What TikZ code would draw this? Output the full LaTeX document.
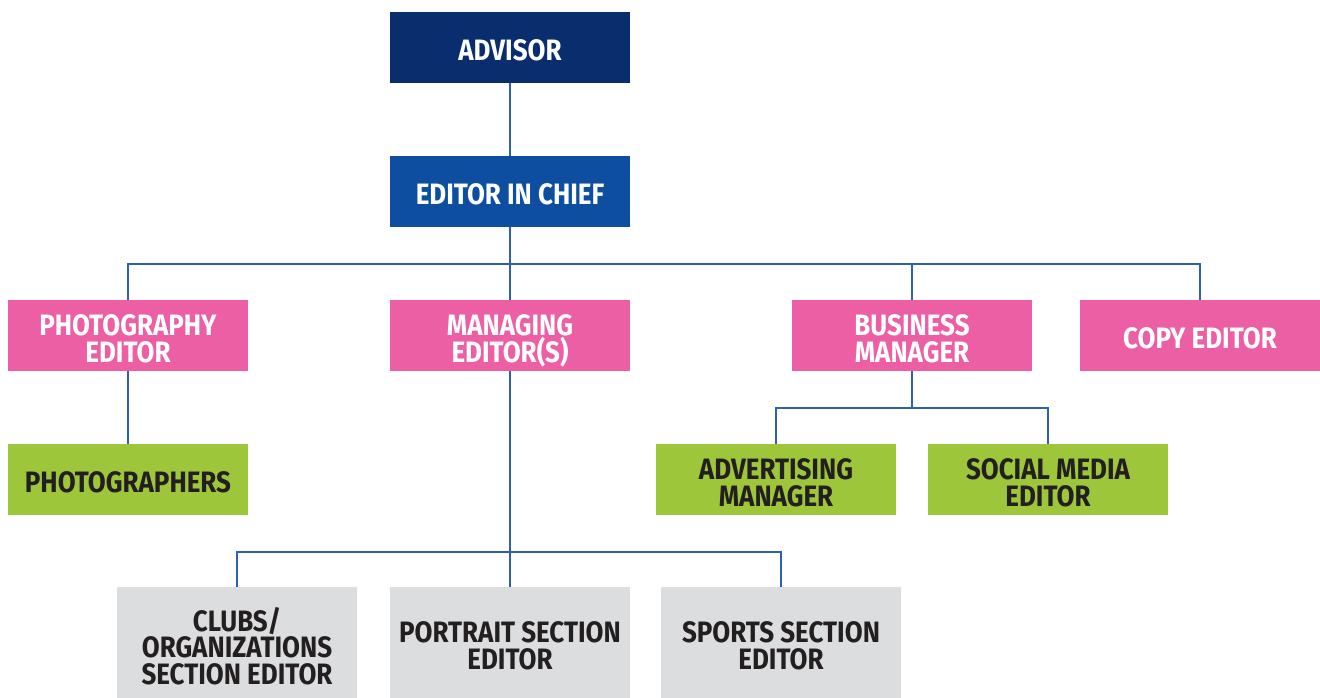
\documentclass[tikz,border=0pt]{standalone}
\usepackage{fontspec}
\setmainfont{Fira Sans}[FakeStretch=0.88]
\definecolor{navy}{HTML}{0A2D6E}
\definecolor{chief}{HTML}{0D4EA0}
\definecolor{pinkc}{HTML}{EC5FA4}
\definecolor{greenc}{HTML}{9EC63A}
\definecolor{grayc}{HTML}{DCDDDE}
\definecolor{linec}{HTML}{2F5FB0}
\definecolor{darktxt}{HTML}{231F20}
\begin{document}
\begin{tikzpicture}[x=1pt,y=-1pt,
  box/.style={minimum width=240pt,minimum height=71pt,inner sep=0pt,align=center,
    font=\fontsize{29.5}{26.5}\selectfont\bfseries},
  txt/.style={inner sep=0pt,align=center,text depth=0pt,yshift=-3pt,
    font=\fontsize{29.5}{26.5}\selectfont\bfseries},
  topbox/.style={box,fill=navy,label={[txt,text=white]center:#1}},
  chiefbox/.style={box,fill=chief,label={[txt,text=white]center:#1}},
  pinkbox/.style={box,fill=pinkc,label={[txt,text=white]center:#1}},
  greenbox/.style={box,fill=greenc,label={[txt,text=darktxt]center:#1}},
  graybox/.style={box,fill=grayc,minimum height=111pt,label={[txt,text=darktxt]center:#1}},
  conn/.style={draw=linec,line width=1.3pt}]
\useasboundingbox (0,0) rectangle (1320,698);
\node[topbox={ADVISOR}] (advisor) at (510,47.5) {};
\node[chiefbox={EDITOR IN CHIEF}] (eic) at (510,191.5) {};
\node[pinkbox={PHOTOGRAPHY\\EDITOR}] (photoed) at (128,335.5) {};
\node[pinkbox={MANAGING\\EDITOR(S)}] (managing) at (510,335.5) {};
\node[pinkbox={BUSINESS\\MANAGER}] (business) at (912,335.5) {};
\node[pinkbox={COPY EDITOR}] (copy) at (1200,335.5) {};
\node[greenbox={PHOTOGRAPHERS}] (photographers) at (128,479.5) {};
\node[greenbox={ADVERTISING\\MANAGER}] (advertising) at (776,479.5) {};
\node[greenbox={SOCIAL MEDIA\\EDITOR}] (social) at (1048,479.5) {};
\node[graybox={CLUBS/\\ORGANIZATIONS\\SECTION EDITOR}] (clubs) at (237,642.5) {};
\node[graybox={PORTRAIT SECTION\\EDITOR}] (portrait) at (510,642.5) {};
\node[graybox={SPORTS SECTION\\EDITOR}] (sports) at (781,642.5) {};
\coordinate (bus1) at (510,264);
\coordinate (bus2) at (912,408);
\coordinate (bus3) at (510,552);
\draw[conn] (advisor.south) -- (eic.north);
\draw[conn] (eic.south) -- (managing.north);
\draw[conn] (photoed.north) |- (bus1) -| (copy.north);
\draw[conn] (business.north) -- (business.north |- bus1);
\draw[conn] (photoed.south) -- (photographers.north);
\draw[conn] (business.south) -- (bus2);
\draw[conn] (advertising.north) |- (bus2) -| (social.north);
\draw[conn] (managing.south) -- (portrait.north);
\draw[conn] (clubs.north) |- (bus3) -| (sports.north);
\end{tikzpicture}
\end{document}
